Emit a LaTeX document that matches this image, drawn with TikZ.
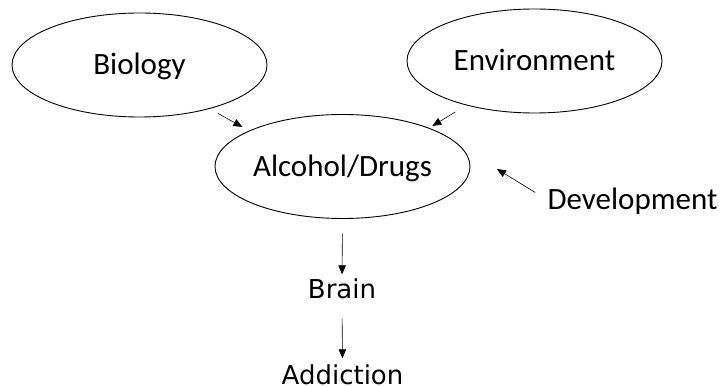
\documentclass[tikz,border=0pt]{standalone}
\usepackage{fontspec}
\setmainfont{Carlito}
\newfontfamily\dejavu{DejaVu Sans}
\usetikzlibrary{arrows.meta,shapes.geometric}
\tikzset{
  >={Triangle[length=9pt,width=7.5pt]},
  oval/.style={draw, line width=0.9pt, ellipse, inner sep=0pt,
    minimum width=255pt, minimum height=104pt},
  txt/.style={inner sep=0pt, font=\fontsize{31}{36}\selectfont,
    text height=20pt, text depth=0pt},
  stage/.style={inner sep=0pt, font=\dejavu\fontsize{26}{30}\selectfont,
    text height=19pt, text depth=0pt},
  conn/.style={->, line width=0.6pt},
}

\begin{document}
\begin{tikzpicture}[x=1pt, y=-1pt]
  \useasboundingbox (0,0) rectangle (723,387);

  % the three ovals
  \node[oval, txt] (bio) at (139.5,65) {Biology};
  \node[oval, txt] (env) at (534.5,61) {Environment};
  \node[oval, txt] (alc) at (342.5,166.5) {Alcohol/Drugs};

  % outside influence
  \node[txt] (dev) at (632.5,200) {Development};
  \coordinate (devtip) at (497,169);

  % chain below
  \node[stage] (brain) at (342,289) {Brain};
  \node[stage] (addict) at (342.5,375) {Addiction};

  % arrows
  \draw[conn, shorten <=9.4pt, shorten >=7.7pt] (bio.-32.6) -- (alc.159);
  \draw[conn, shorten <=12.8pt, shorten >=3.7pt] (env.-147) -- (alc.24.8);
  \draw[conn, shorten <=14.4pt] (dev.west) -- (devtip);
  \draw[conn, shorten <=14.5pt, shorten >=5pt] (alc.south) -- (brain.north);
  \draw[conn, shorten <=20pt, shorten >=7pt] (brain.south) -- (addict.north);
\end{tikzpicture}
\end{document}
